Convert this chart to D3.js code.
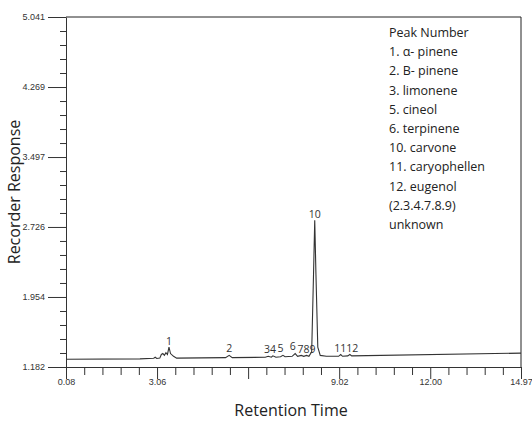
<!DOCTYPE html><html><head><meta charset="utf-8"><script src="https://d3js.org/d3.v7.min.js"></script>
<style>body{margin:0;background:#fff}</style></head><body><svg id="c" width="532" height="422"></svg>
<script>
const yTicks=[1.182,1.954,2.726,3.497,4.269,5.041];
const xTicks=[0.08,3.06,6.04,9.02,12.00,14.97];
const xTickLabels=["0.08","3.06","","9.02","12.00","14.97"];
const traceT=[0.08,2.5,2.95,3.0,3.05,3.15,3.2,3.25,3.3,3.35,3.4,3.45,3.5,3.6,3.7,5.3,5.42,5.52,6.6,6.7,6.8,6.85,6.95,7.1,7.18,7.25,7.48,7.58,7.66,7.78,7.86,7.95,8.03,8.12,8.18,8.22,8.26,8.32,8.4,8.6,9.0,9.07,9.13,9.3,9.37,9.43,14.97];
const traceV=[1.268,1.272,1.278,1.29,1.276,1.28,1.32,1.33,1.31,1.34,1.32,1.40,1.33,1.30,1.28,1.285,1.31,1.285,1.29,1.30,1.29,1.305,1.29,1.295,1.31,1.295,1.30,1.33,1.30,1.31,1.30,1.31,1.30,1.35,2.2,2.80,2.2,1.40,1.31,1.30,1.30,1.32,1.30,1.305,1.32,1.305,1.335];
const peakLabels=["1","2","34","5","6","789","10","1112"];
const peakT=[3.45,5.42,6.76,7.1,7.5,7.95,8.22,9.25];
const peakV=[1.43,1.35,1.34,1.345,1.365,1.335,2.82,1.345];
const legend=["Peak Number","1. α- pinene","2. B- pinene","3. limonene","5. cineol","6. terpinene","10. carvone","11. caryophellen","12. eugenol","(2.3.4.7.8.9)","unknown"];
const svg=d3.select("#c");
const x=d3.scaleLinear().domain([0.08,14.97]).range([66,521]);
const y=d3.scaleLinear().domain([1.182,5.041]).range([367,17]);
const g=svg.append("g").attr("stroke","#222").attr("stroke-width",1);
g.append("line").attr("x1",66).attr("x2",521).attr("y1",y(5.041)).attr("y2",y(5.041));
g.append("line").attr("x1",521).attr("x2",521).attr("y1",y(5.041)).attr("y2",y(1.182));
const yAx=svg.append("g").attr("transform","translate(66,0)").call(d3.axisLeft(y).tickValues(yTicks).tickFormat(d3.format(".3f")).tickSize(18).tickSizeOuter(0));
const minorY=[];for(let i=0;i<5;i++)for(let j=1;j<5;j++)minorY.push(yTicks[i]+(yTicks[i+1]-yTicks[i])*j/5);
svg.append("g").attr("transform","translate(66,0)").call(d3.axisLeft(y).tickValues(minorY).tickFormat("").tickSize(6).tickSizeOuter(0)).select(".domain").remove();
const xAx=svg.append("g").attr("transform","translate(0,367)").call(d3.axisBottom(x).tickValues(xTicks).tickFormat((d,i)=>xTickLabels[i]).tickSize(12).tickSizeOuter(0));
const minorX=[];for(let i=0;i<5;i++)for(let j=1;j<5;j++)minorX.push(xTicks[i]+(xTicks[i+1]-xTicks[i])*j/5);
svg.append("g").attr("transform","translate(0,367)").call(d3.axisBottom(x).tickValues(minorX).tickFormat("").tickSize(8).tickSizeOuter(0)).select(".domain").remove();
svg.selectAll(".tick text").attr("font-family","Liberation Sans Narrow, Liberation Sans, sans-serif").attr("font-size",9).attr("fill","#333");
yAx.selectAll(".tick text").attr("dy","0.32em");
xAx.selectAll(".tick text").attr("dy","0.3em");
svg.selectAll(".domain,.tick line").attr("stroke","#333");
const pts=traceT.map((t,i)=>[t,traceV[i]]);
svg.append("path").datum(pts).attr("fill","none").attr("stroke","#333").attr("stroke-width",1.1)
 .attr("d",d3.line().x(d=>x(d[0])).y(d=>y(d[1])));
svg.selectAll(".pl").data(peakLabels).join("text").attr("x",(d,i)=>x(peakT[i])).attr("y",(d,i)=>y(peakV[i]))
 .attr("text-anchor","middle").attr("font-family","Open Sans, sans-serif").attr("font-size",10.5).attr("fill","#333").text(d=>d);
svg.selectAll(".lg").data(legend).join("text").attr("x",389).attr("y",(d,i)=>37+i*19.2)
 .attr("font-family","Open Sans, sans-serif").attr("font-size",12.5).attr("fill","#222").text(d=>d);
svg.append("text").attr("transform","translate(20,192) rotate(-90)").attr("text-anchor","middle")
 .attr("font-family","Open Sans, sans-serif").attr("font-size",16).attr("fill","#222").text("Recorder Response");
svg.append("text").attr("x",291).attr("y",416).attr("text-anchor","middle")
 .attr("font-family","Open Sans, sans-serif").attr("font-size",16).attr("fill","#222").text("Retention Time");
</script></body></html>
